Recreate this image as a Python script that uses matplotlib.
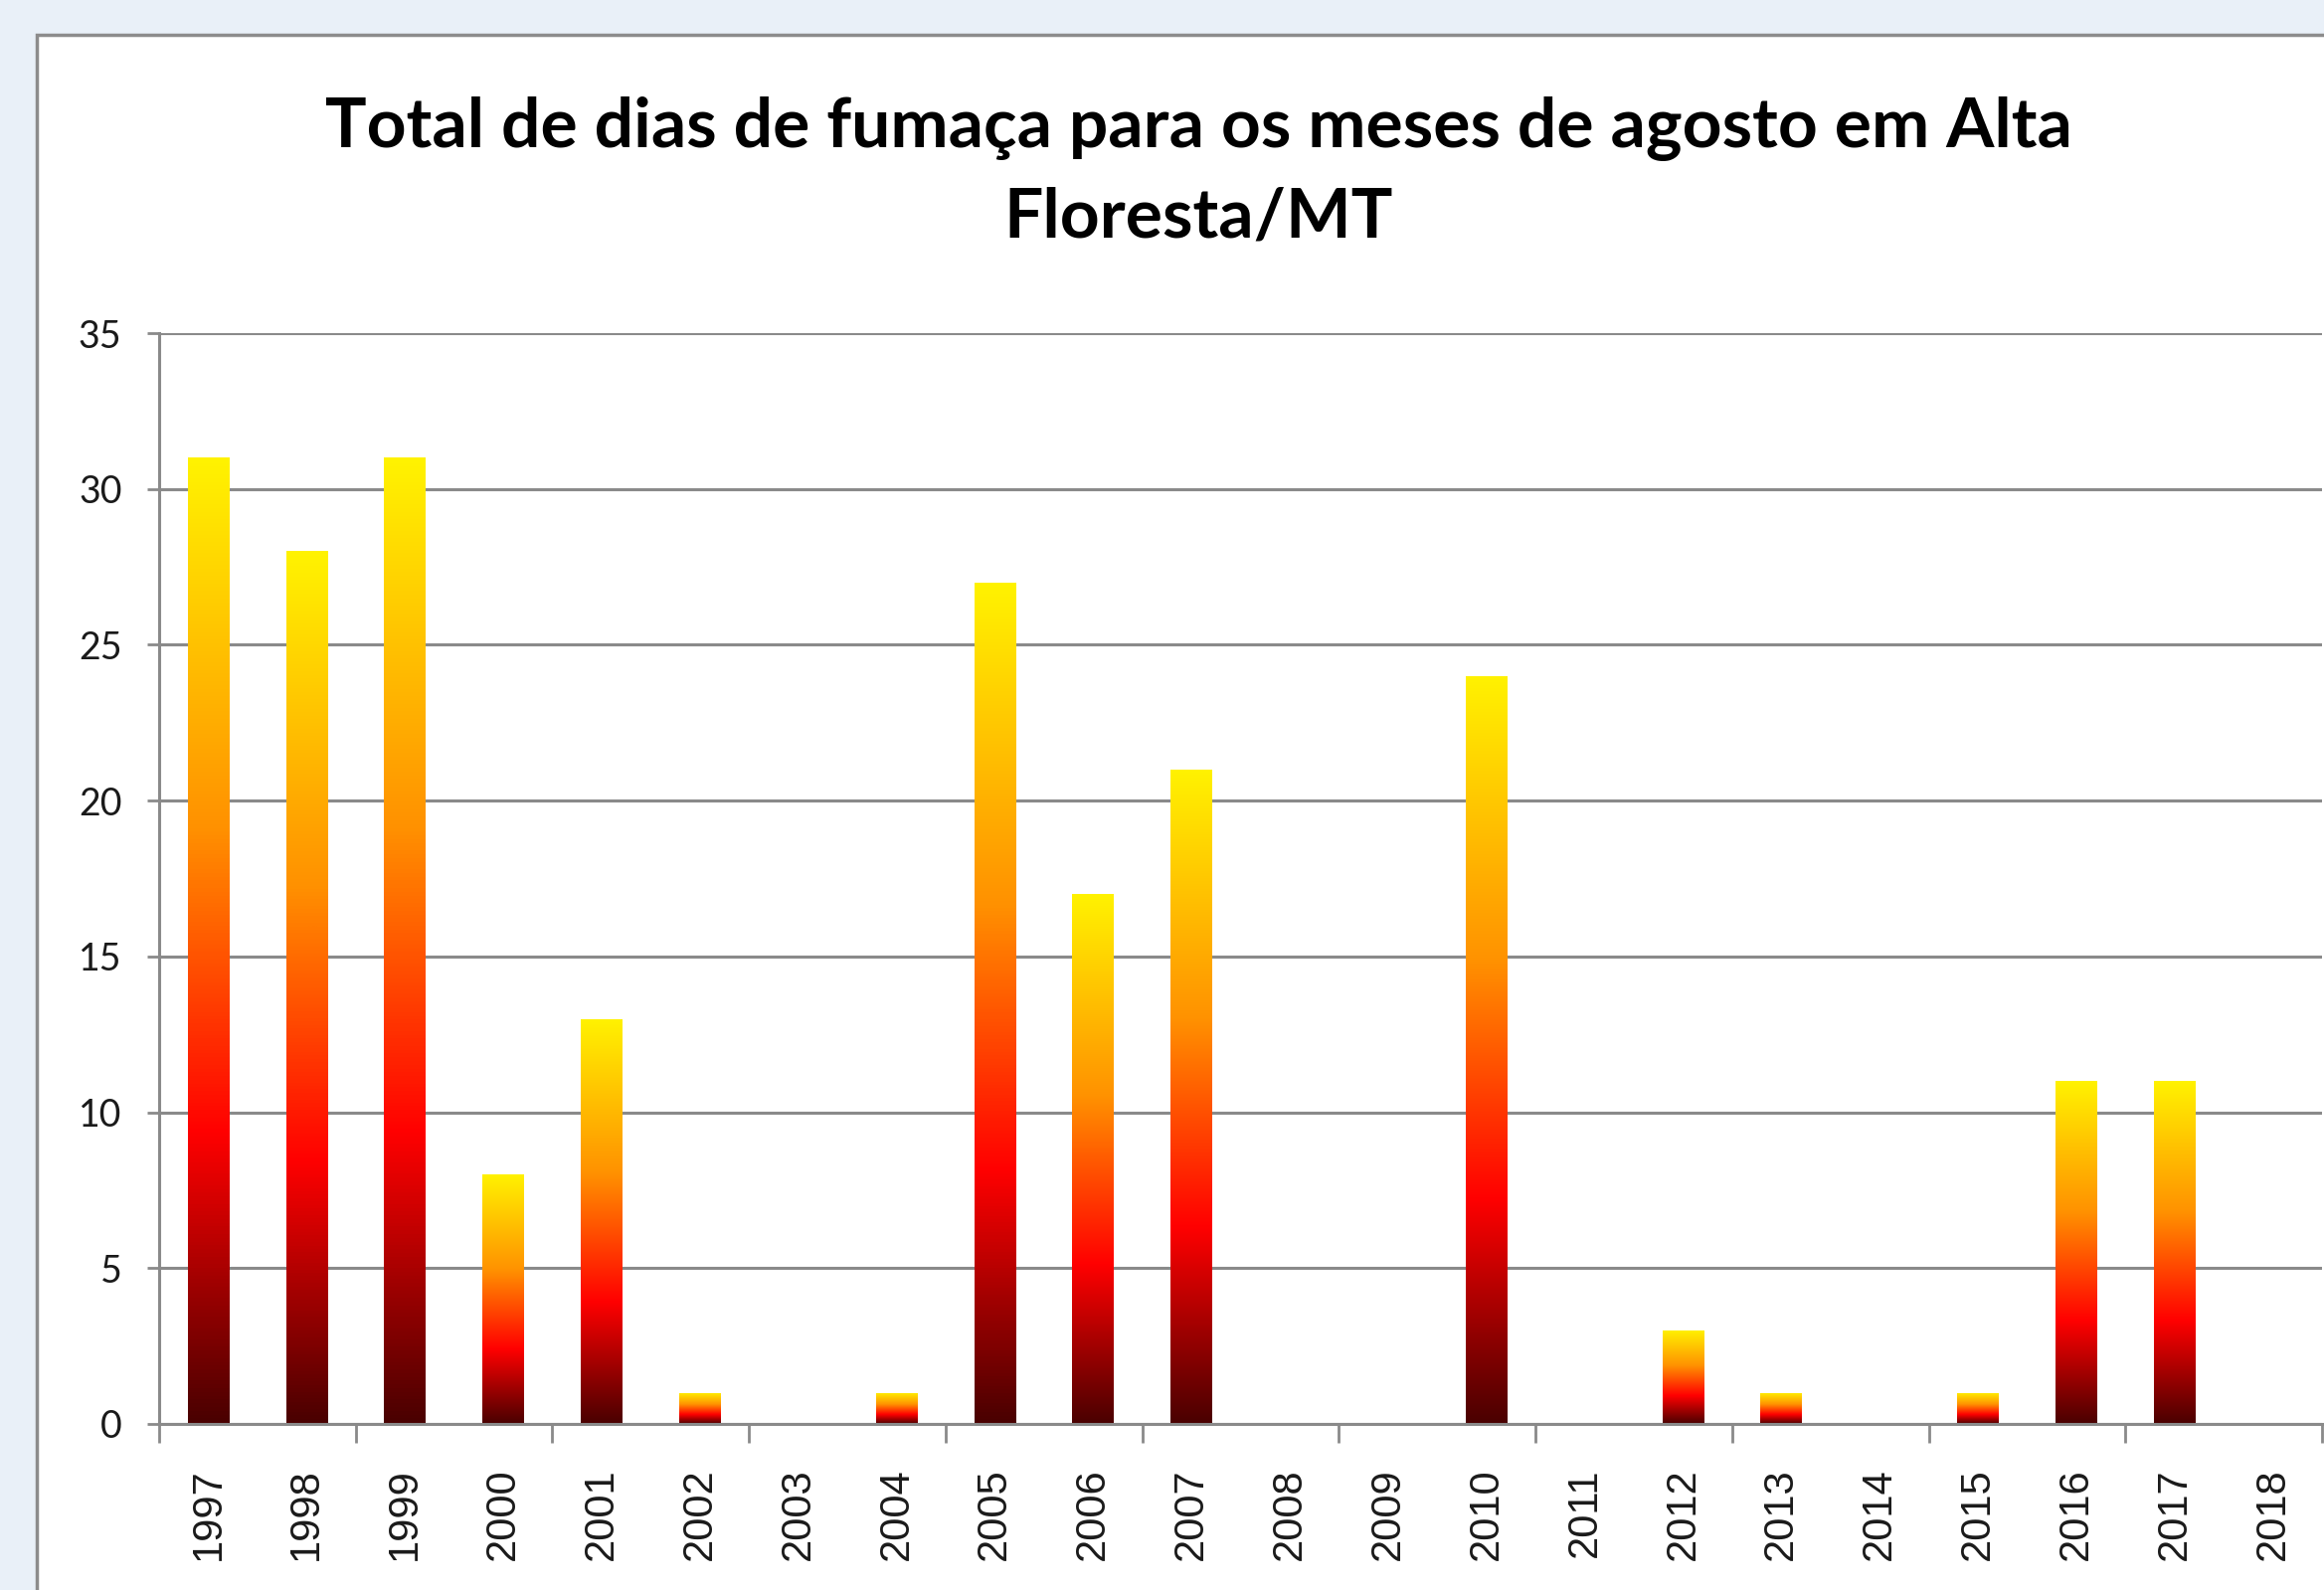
import matplotlib
matplotlib.use("Agg")
import matplotlib.pyplot as plt
import numpy as np
from matplotlib.colors import LinearSegmentedColormap
from matplotlib.patches import Rectangle

years = ["1997", "1998", "1999", "2000", "2001", "2002", "2003", "2004", "2005", "2006", "2007",
         "2008", "2009", "2010", "2011", "2012", "2013", "2014", "2015", "2016", "2017", "2018"]
smoke_days = [31, 28, 31, 8, 13, 1, 0, 1, 27, 17, 21, 0, 0, 24, 0, 3, 1, 0, 1, 11, 11, 0]
y_ticks = [0, 5, 10, 15, 20, 25, 30, 35]
title = "Total de dias de fumaça para os meses de agosto em Alta\nFloresta/MT"

W, H = 2337, 1599
fig = plt.figure(figsize=(W / 100, H / 100), dpi=100)
fig.patch.set_facecolor("#E9F0F8")

# white chart area with gray border (extends past right and bottom edges)
fig.patches.append(Rectangle((37 / W, -0.05), 1.2, 1 - 35 / H + 0.05, transform=fig.transFigure,
                             facecolor="white", edgecolor="#8c8c8c", linewidth=2.5, zorder=-10))

ax = fig.add_axes([160 / W, 1 - 1432 / H, (2335 - 160) / W, (1432 - 335) / H])
ax.set_facecolor("none")

cmap = LinearSegmentedColormap.from_list(
    "fire", [(0.0, "#4a0000"), (0.30, "#ff0000"), (0.62, "#ff9200"), (1.0, "#fff200")])

x = np.arange(len(years))
bars = ax.bar(x, smoke_days, width=0.42, color="none", edgecolor="none", zorder=2)
grad = np.linspace(1, 0, 256).reshape(-1, 1)
for b, v in zip(bars, smoke_days):
    if v <= 0:
        continue
    x0 = b.get_x()
    im = ax.imshow(grad, cmap=cmap, vmin=0, vmax=1, aspect="auto",
                   extent=[x0, x0 + b.get_width(), 0, v], zorder=2, interpolation="bilinear")
    im.set_clip_path(b)

ax.set_xlim(-0.5, len(years) - 0.5)
ax.set_ylim(0, 35)

ax.set_yticks(y_ticks)
ax.set_yticklabels([str(t) for t in y_ticks], fontfamily="Lato", fontsize=27, color="#1a1a1a")
ax.yaxis.grid(True, color="#8a8a8a", linewidth=2.2)
ax.set_axisbelow(True)
ax.tick_params(axis="y", length=9, width=2, color="#8a8a8a", pad=18, direction="out")

ax.set_xticks(np.arange(-0.5, len(years), 2))
ax.set_xticklabels([])
ax.tick_params(axis="x", which="major", length=14, width=2, color="#8a8a8a", direction="out")
ax.set_xticks(x, minor=True)
ax.set_xticklabels(years, minor=True, rotation=90, fontfamily="Liberation Sans",
                   fontsize=30, color="#1a1a1a")
ax.tick_params(axis="x", which="minor", length=0, pad=32)

for s in ["top", "right"]:
    ax.spines[s].set_visible(False)
for s in ["left", "bottom"]:
    ax.spines[s].set_color("#8a8a8a")
    ax.spines[s].set_linewidth(2.2)

fig.text(1205 / W, 1 - 174 / H, title, ha="center", va="center", fontfamily="Lato",
         fontweight="bold", fontsize=50, color="black", linespacing=1.5)

fig.savefig("out.png", dpi=100, facecolor=fig.get_facecolor())
